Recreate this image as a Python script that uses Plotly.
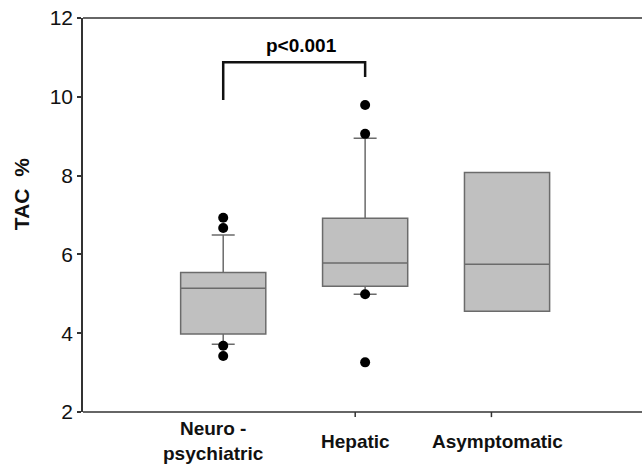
import plotly.graph_objects as go

# ---- data ----
categories = ["Neuro -<br>psychiatric", "Hepatic", "Asymptomatic"]
positions = [1, 2, 3]
q1 = [3.98, 5.19, 4.56]
median = [5.14, 5.78, 5.75]
q3 = [5.54, 6.92, 8.08]
lower_fence = [3.72, 4.99, 4.56]
upper_fence = [6.49, 8.95, 8.08]

outlier_x = [1, 1, 1, 1, 2, 2, 2, 2]
outlier_y = [6.93, 6.67, 3.68, 3.42, 9.79, 9.06, 4.99, 3.26]

bracket_x = [1, 1, 2, 2]
bracket_y = [9.92, 10.88, 10.88, 10.5]
p_text = "p<0.001"
p_y = 11.31

y_ticks = [2, 4, 6, 8, 10, 12]
x_minor_ticks = [1.93, 2.89]
label_offset = -0.07

FONT = "Liberation Sans, Arial, sans-serif"

fig = go.Figure()
fig.add_trace(go.Box(
    x=positions, q1=q1, median=median, q3=q3,
    lowerfence=lower_fence, upperfence=upper_fence,
    width=0.6, whiskerwidth=0.27, boxpoints=False,
    fillcolor="#c0c0c0", line=dict(color="#6b6b6b", width=1.5),
    showlegend=False, hoverinfo="skip",
))
fig.add_trace(go.Scatter(
    x=outlier_x, y=outlier_y, mode="markers",
    marker=dict(color="black", size=10), showlegend=False,
))
fig.add_trace(go.Scatter(
    x=bracket_x, y=bracket_y, mode="lines",
    line=dict(color="#111111", width=2.5), showlegend=False,
))

fig.add_annotation(x=(bracket_x[0] + bracket_x[-1]) / 2 + 0.05, y=p_y, text="<b>%s</b>" % p_text,
                   showarrow=False, font=dict(family=FONT, size=19, color="black"))

for pos, lab in zip(positions, categories):
    fig.add_annotation(x=pos + label_offset, y=-0.074, xref="x", yref="paper",
                       text="<b>%s</b>" % lab, showarrow=False, yanchor="middle",
                       font=dict(family=FONT, size=19, color="#111111"))

for t in x_minor_ticks:
    fig.add_shape(type="line", x0=t, x1=t, y0=0, y1=-0.013, xref="x", yref="paper",
                  line=dict(color="#333333", width=1.5))

# top frame line and bottom axis line, running off the right edge
fig.add_shape(type="line", x0=0, x1=1.05, y0=1, y1=1, xref="paper", yref="paper",
              line=dict(color="#333333", width=1.5))
fig.add_shape(type="line", x0=0, x1=1.05, y0=0, y1=0, xref="paper", yref="paper",
              line=dict(color="#333333", width=1.5))

fig.add_annotation(x=-0.115, y=0.553, xref="paper", yref="paper", text="<b>TAC&nbsp;&nbsp;%</b>",
                   textangle=-90, showarrow=False, xanchor="center", yanchor="middle",
                   font=dict(family=FONT, size=21, color="#111111"))

fig.update_layout(
    template="none",
    width=642, height=467,
    margin=dict(l=83, r=20, t=18, b=55, autoexpand=False),
    paper_bgcolor="white", plot_bgcolor="white",
    font=dict(family=FONT, color="#111111"),
)
fig.update_xaxes(range=[0.012, 3.81], showgrid=False, zeroline=False, automargin=False,
                 showline=False, showticklabels=False, ticks="")
fig.update_yaxes(range=[2, 12], tickvals=y_ticks, showgrid=False, zeroline=False, automargin=False,
                 showline=True, linecolor="#333333", linewidth=1.5,
                 ticks="outside", ticklen=4, tickcolor="#333333", tickwidth=1.5,
                 tickfont=dict(family=FONT, size=21, color="#111111"))

fig.write_html("out.html")
